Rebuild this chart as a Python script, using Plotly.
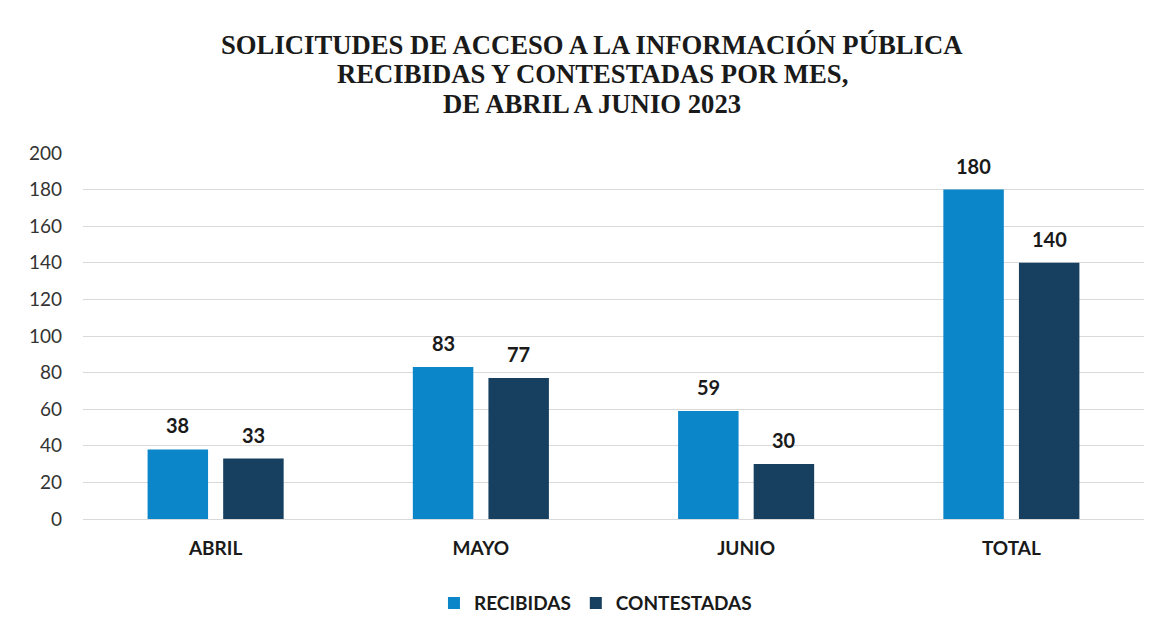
import plotly.graph_objects as go

categories = ["ABRIL", "MAYO", "JUNIO", "TOTAL"]
recibidas = [38, 83, 59, 180]
contestadas = [33, 77, 30, 140]
series_names = ["RECIBIDAS", "CONTESTADAS"]
y_ticks = [0, 20, 40, 60, 80, 100, 120, 140, 160, 180, 200]
title_lines = [
    "SOLICITUDES DE ACCESO A LA INFORMACIÓN PÚBLICA",
    "RECIBIDAS Y CONTESTADAS POR MES,",
    "DE ABRIL A JUNIO 2023",
]

colors = ["#0b86c9", "#173f5f"]
font_family = "Lato, 'Open Sans', sans-serif"
serif = "'Liberation Serif', 'Times New Roman', serif"

fig = go.Figure()
for name, vals, col in zip(series_names, [recibidas, contestadas], colors):
    fig.add_trace(go.Bar(
        x=categories, y=vals, name=f"<b>{name}</b>",
        marker=dict(color=col, line=dict(width=0)),
    ))

# value labels above bars
slot_px = 75.5
for j, vals in enumerate([recibidas, contestadas]):
    for c, v in zip(categories, vals):
        fig.add_annotation(
            x=c, y=v, text=f"<b>{v}</b>", showarrow=False,
            xref="x", yref="y", yanchor="bottom",
            xshift=(j - 0.5) * slot_px, yshift=10,
            font=dict(family=font_family, size=20, color="#1a1a1a"),
        )

# title lines (tighter line spacing than plotly's title allows)
plot_h = 366.0
for k, line in enumerate(title_lines):
    fig.add_annotation(
        x=0.48, y=1 + (108 - 29.5 * k) / plot_h, xref="paper", yref="paper",
        xanchor="center", yanchor="middle", showarrow=False,
        text=f"<b>{line}</b>",
        font=dict(family=serif, size=26.7, color="#1a1a1a"),
    )

fig.update_layout(
    width=1164, height=641,
    paper_bgcolor="white", plot_bgcolor="white",
    margin=dict(l=75, r=28, t=145, b=130),
    barmode="group", bargap=0.43, bargroupgap=0.2,
    xaxis=dict(
        tickfont=dict(family=font_family, size=19, color="#1a1a1a"),
        showgrid=False, showline=False, ticks="",
        tickprefix="<b>", ticksuffix="</b>", ticklabelstandoff=16,
    ),
    yaxis=dict(
        range=[0, 200], tickvals=y_ticks,
        tickfont=dict(family=font_family, size=19, color="#333333"),
        showgrid=True, gridcolor="#d9d9d9", gridwidth=1,
        zeroline=True, zerolinecolor="#d9d9d9", zerolinewidth=1,
        showline=False, ticks="", ticklabelstandoff=20,
    ),
    legend=dict(
        orientation="h", x=0.483, xanchor="center", y=-0.23, yanchor="middle",
        font=dict(family=font_family, size=19, color="#1a1a1a"),
        itemwidth=30, traceorder="normal",
    ),
    showlegend=True,
)

fig.write_html("out.html")
